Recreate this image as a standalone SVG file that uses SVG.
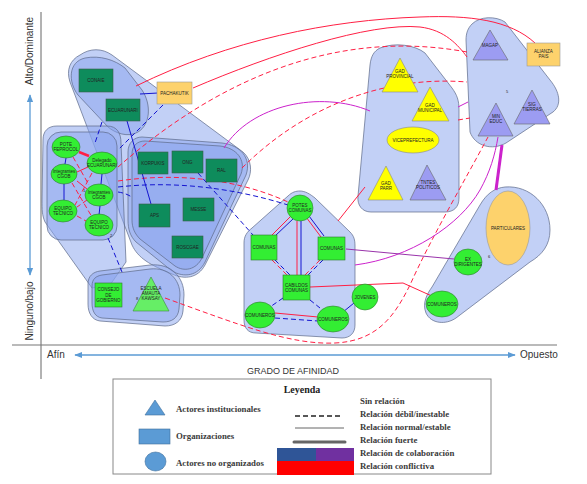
<svg xmlns="http://www.w3.org/2000/svg" width="587" height="484" viewBox="0 0 587 484">
<defs>
<style>
.cl{fill:#8aa5ee;fill-opacity:.52;stroke:#5b6888;stroke-width:.7}
.dg{fill:#0e8c5c;stroke:#3c5c48;stroke-width:.6}
.bg{fill:#33ee33;stroke:#2d7a2d;stroke-width:.6}
.lg{fill:#66ee66;stroke:#3d8a3d;stroke-width:.6}
.yl{fill:#ffff00;stroke:#888;stroke-width:.6}
.pu{fill:#9c9cf2;stroke:#666;stroke-width:.6}
.or{fill:#fdd26c;stroke:#999;stroke-width:.6}
.t{font-family:"Liberation Sans",Arial,sans-serif;font-size:4.5px;fill:#222;text-anchor:middle}
.n{font-family:"Liberation Sans",Arial,sans-serif;font-size:4px;fill:#222}
.r{fill:none;stroke:#ff1f44;stroke-width:1}
.rd{fill:none;stroke:#ff1f44;stroke-width:1;stroke-dasharray:5 3}
.b{fill:none;stroke:#1414d0;stroke-width:1}
.bd{fill:none;stroke:#1414d0;stroke-width:1;stroke-dasharray:5 3}
.m{fill:none;stroke:#cc22cc;stroke-width:1}
.p{fill:none;stroke:#9933aa;stroke-width:1}
.ax{font-family:"Liberation Sans",Arial,sans-serif;font-size:10px;fill:#333}
.lt{font-family:"Liberation Serif","Times New Roman",serif;font-size:8.8px;font-weight:bold;fill:#3a3a3a}
</style>
<marker id="ah" viewBox="0 0 10 10" refX="9" refY="5" markerWidth="6" markerHeight="6" orient="auto-start-reverse"><path d="M0,1 L10,5 L0,9 Z" fill="#5b9bd5"/></marker>
</defs>
<rect width="587" height="484" fill="#fff"/>

<g id="axes">
<line x1="41" y1="12" x2="41" y2="379" stroke="#666" stroke-width="1"/>
<line x1="12" y1="345" x2="557" y2="345" stroke="#777" stroke-width="1.2"/>
<line x1="30" y1="95" x2="30" y2="275" stroke="#5b9bd5" stroke-width="1.3" marker-start="url(#ah)" marker-end="url(#ah)"/>
<line x1="75" y1="355" x2="515" y2="355" stroke="#5b9bd5" stroke-width="1.3" marker-start="url(#ah)" marker-end="url(#ah)"/>
<text class="ax" transform="translate(33,51) rotate(-90)" text-anchor="middle">Alto/Dominante</text>
<text class="ax" transform="translate(33,311) rotate(-90)" text-anchor="middle">Ninguno/bajo</text>
<text class="ax" x="47" y="358">Afín</text>
<text class="ax" x="520" y="358">Opuesto</text>
<text class="ax" x="293" y="374" text-anchor="middle" style="font-size:9px">GRADO DE AFINIDAD</text>
</g>

<g id="clusters">
<path class="cl" d="M80,55 C90,48 102,48 112,55 L243,152 C252,160 252,172 248,180 L205,265 C198,278 185,280 172,274 C150,265 138,258 132,245 L70,82 C66,70 70,60 80,55 Z"/>
<path class="cl" d="M85,58 C100,55 115,60 125,68 L142,90 C152,105 150,125 138,132 C128,138 115,133 108,127 L78,95 C68,82 68,62 85,58 Z"/>
<path class="cl" d="M57,126 L107,126 C117,126 121,133 121,143 L126,262 L110,285 L92,288 L45,222 C42,215 42,210 42,200 L43,140 C43,131 48,126 57,126 Z"/>
<rect class="cl" x="47" y="132" width="70" height="108" rx="14"/>
<path class="cl" d="M142,137 L222,143 C240,145 252,158 246,175 L205,262 C198,276 184,278 172,271 L136,242 C130,236 128,229 128,220 L128,152 C128,143 134,137 142,137 Z"/>
<path class="cl" d="M145,141 L220,146 C237,148 246,160 241,174 L202,258 C196,270 184,272 175,266 L140,239 C135,234 132,228 132,220 L132,154 C132,146 137,141 145,141 Z"/>
<path class="cl" d="M100,271 L150,265 C171,263 184,277 184,295 L183,311 C182,321 175,326 165,326 L100,321 C92,320 88,313 88,304 L88,284 C88,276 93,272 100,271 Z"/>
<path class="cl" d="M102,275 L150,269 C168,267 180,279 180,295 L179,309 C178,318 172,322 163,322 L102,318 C95,317 92,311 92,303 L92,286 C92,279 96,276 102,275 Z"/>
<path class="cl" d="M300,191 C305,191 310,194 315,198 L350,232 C354,236 355,240 355,246 L355,325 C355,333 350,338 342,338 L256,333 C248,333 244,328 244,320 L244,243 C244,236 247,232 252,228 L288,196 C292,192 296,191 300,191 Z"/>
<path class="cl" d="M380,48 C395,42 415,45 425,53 L452,88 C457,95 459,100 459,110 L459,198 C459,207 454,212 445,212 L371,212 C362,212 357,205 358,196 L370,65 C371,56 374,51 380,48 Z"/>
<path class="cl" d="M472,24 C480,16 496,16 505,22 L550,80 C560,92 562,105 553,112 L506,143 C492,151 475,146 470,132 L466,40 C466,33 468,28 472,24 Z"/>
<path class="cl" d="M505,187 C530,185 550,205 550,230 C550,245 542,255 530,262 L456,318 C446,325 431,324 426,313 C422,303 427,294 432,287 L480,205 C487,193 495,188 505,187 Z"/>
</g>

<g id="connectors">
<path class="r" d="M136,86 C230,40 330,20 420,17 C470,15 510,20 535,43"/>
<path class="r" d="M193,88 C270,55 370,22 420,27 C445,30 458,45 467,57"/>
<path class="r" d="M338,221 L365,187"/>
<path class="r" d="M310,287 L403,283 L434,297"/>
<path class="r" d="M275,313 L318,317"/>
<path class="bd" d="M275,318 L318,321"/>
<path class="r" d="M79,152 L89,156" style="stroke-width:2.5"/>
<path class="r" d="M77,172 L88,167 M77,181 L87,189"/>
<path class="r" d="M291,216 L272,235 M297,221 L297,275 M306,217 L321,237"/>
<path class="b" d="M294,218 L275,236 M301,221 L301,275 M309,216 L324,236"/>
<path class="rd" d="M272,260 L287,275 M320,260 L305,275"/>
<path class="bd" d="M275,260 L290,275 M323,260 L308,275"/>
<path class="rd" d="M118,167 C200,95 320,25 467,52"/>
<path class="rd" d="M242,168 C300,110 380,75 467,82"/>
<path class="rd" d="M458,120 L470,118"/>
<path class="rd" d="M118,181 C180,172 240,180 288,202"/>
<path class="rd" d="M165,298 C240,325 290,345 335,343 C378,341 395,315 410,285 C430,240 465,180 488,137"/>
<path class="rd" d="M73,157 L89,185 M92,173 L75,205 M72,183 L92,217 M87,200 L77,207 M77,216 L86,221"/>
<path class="b" d="M127,121 L151,204 M140,94 L158,93 M66,158 L65,164 M64,184 L64,200 M102,174 L101,184 M100,206 L99,215 M343,312 L354,303"/>
<path class="bd" d="M102,122 L95,143 M163,105 L118,150 M198,173 L253,235 M108,238 L122,272"/>
<path class="bd" d="M118,187 C180,180 240,190 288,205"/>
<path class="bd" d="M118,192 C125,193 128,195 132,197"/>
<path class="bd" d="M283,298 L270,307 M310,300 L320,308"/>
<path class="m" d="M224,148 C250,105 320,90 370,111"/>
<path class="m" d="M458,107 L468,102"/>
<path class="m" d="M355,265 C410,258 460,225 480,190 C490,172 495,155 498,137"/>
<path class="m" d="M502,145 L496,190" style="stroke-width:3"/>
<path class="p" d="M346,249 L454,259"/>
</g>

<g id="conaie"><rect class="dg" x="79" y="69" width="34" height="23"/><text class="t" x="96" y="82">CONAIE</text></g>
<g id="ecuarunari"><rect class="dg" x="106" y="99" width="34" height="22"/><text class="t" x="123" y="112">ECUARUNARI</text></g>
<g id="pachakutik"><rect class="or" x="157" y="82" width="35" height="22"/><text class="t" x="174.5" y="95">PACHAKUTIK</text></g>
<g id="korpukis"><rect class="dg" x="138" y="152" width="30" height="22"/><text class="t" x="153" y="165">KORPUKIS</text></g>
<g id="ong"><rect class="dg" x="172" y="151" width="31" height="22"/><text class="t" x="187.5" y="164">ONG</text></g>
<g id="ral"><rect class="dg" x="206" y="159" width="31" height="23"/><text class="t" x="221.5" y="172">RAL</text></g>
<g id="aps"><rect class="dg" x="139" y="204" width="31" height="23"/><text class="t" x="154.5" y="217">APS</text></g>
<g id="messe"><rect class="dg" x="183" y="198" width="31" height="23"/><text class="t" x="198.5" y="211">MESSE</text></g>
<g id="roscgae"><rect class="dg" x="172" y="236" width="31" height="22"/><text class="t" x="187.5" y="249">ROSCGAE</text></g>

<g id="pote-feprocol"><ellipse class="bg" cx="66" cy="147" rx="14" ry="11"/><text class="t" x="66" y="146">POTE</text><text class="t" x="66" y="151">FEPROCOL</text></g>
<g id="delegado"><ellipse class="bg" cx="102" cy="163" rx="15" ry="11"/><text class="t" x="102" y="162">Delegado</text><text class="t" x="102" y="167">ECUARUNARI</text></g>
<g id="cgob-1"><ellipse class="bg" cx="64" cy="174" rx="13" ry="10"/><text class="t" x="64" y="173">Integrantes</text><text class="t" x="64" y="178">CGOB</text></g>
<g id="cgob-2"><ellipse class="bg" cx="99" cy="195" rx="14" ry="11"/><text class="t" x="99" y="194">Integrantes</text><text class="t" x="99" y="199">CGOB</text></g>
<g id="equipo-1"><ellipse class="bg" cx="63" cy="211" rx="14" ry="11"/><text class="t" x="63" y="210">EQUIPO</text><text class="t" x="63" y="215">TECNICO</text></g>
<g id="equipo-2"><ellipse class="bg" cx="99" cy="225" rx="14" ry="11"/><text class="t" x="99" y="224">EQUIPO</text><text class="t" x="99" y="229">TECNICO</text></g>

<g id="consejo"><rect class="bg" x="95" y="283" width="27" height="24"/><text class="t" x="108.5" y="291">CONSEJO</text><text class="t" x="108.5" y="296.5">DE</text><text class="t" x="108.5" y="302">GOBIERNO</text></g>
<g id="escuela"><polygon class="lg" points="151,277 169,311 133,311"/><text class="t" x="151" y="290">ESCUELA</text><text class="t" x="151" y="295">AMAUTA</text><text class="t" x="151" y="300">KAWSAY</text></g>

<g id="potes-comunas"><ellipse class="bg" cx="300" cy="208" rx="13" ry="13"/><text class="t" x="300" y="207">POTES</text><text class="t" x="300" y="212">COMUNAS</text></g>
<g id="comunas-1"><rect class="bg" x="251" y="235" width="26" height="25"/><text class="t" x="264" y="249">COMUNAS</text></g>
<g id="comunas-2"><rect class="bg" x="318" y="237" width="27" height="23"/><text class="t" x="331.5" y="250">COMUNAS</text></g>
<g id="cabildos"><rect class="bg" x="283" y="275" width="27" height="25"/><text class="t" x="296.5" y="287">CABILDOS</text><text class="t" x="296.5" y="292">COMUNAS</text></g>
<g id="comuneros-1"><ellipse class="bg" cx="260" cy="315" rx="15" ry="13"/><text class="t" x="260" y="317">COMUNEROS</text></g>
<g id="comuneros-2"><ellipse class="bg" cx="333" cy="319" rx="16" ry="13"/><text class="t" x="333" y="321">COMUNEROS</text></g>
<g id="jovenes"><ellipse class="bg" cx="365" cy="297" rx="13" ry="13"/><text class="t" x="365" y="299">JOVENES</text></g>

<g id="gad-provincial"><polygon class="yl" points="400,58 418,92 382,92"/><text class="t" x="400" y="73">GAD</text><text class="t" x="400" y="78">PROVINCIAL</text></g>
<g id="gad-municipal"><polygon class="yl" points="430,87 449,121 412,121"/><text class="t" x="430" y="107">GAD</text><text class="t" x="430" y="112">MUNICIPAL</text></g>
<g id="viceprefectura"><ellipse class="yl" cx="413" cy="140" rx="26" ry="13"/><text class="t" x="413" y="142">VICEPREFECTURA</text></g>
<g id="gad-parr"><polygon class="yl" points="386,166 403,200 368,200"/><text class="t" x="386" y="185">GAD</text><text class="t" x="386" y="190">PARR</text></g>
<g id="tntes"><polygon class="pu" points="427,165 446,200 410,200"/><text class="t" x="428" y="184">TNTES</text><text class="t" x="428" y="189">POLITICOS</text></g>

<g id="magap"><polygon class="pu" points="490,30 508,60 473,60"/><text class="t" x="490" y="47">MAGAP</text></g>
<g id="min-educ"><polygon class="pu" points="496,103 513,136 478,136"/><text class="t" x="496" y="118">MIN</text><text class="t" x="496" y="123">EDUC</text></g>
<g id="sig-tierras"><polygon class="pu" points="532,90 550,124 514,124"/><text class="t" x="532" y="106">SIG</text><text class="t" x="532" y="111">TIERRAS</text></g>
<g id="alianza-pais"><rect class="or" x="527" y="43" width="33" height="23"/><text class="t" x="543.5" y="53">ALIANZA</text><text class="t" x="543.5" y="58">PAIS</text></g>

<g id="particulares"><ellipse class="or" cx="508" cy="228" rx="22" ry="37"/><text class="t" x="508" y="230">PARTICULARES</text></g>
<g id="ex-dirigentes"><ellipse class="bg" cx="468" cy="262" rx="14" ry="13"/><text class="t" x="468" y="261">EX</text><text class="t" x="468" y="266">DIRIGENTES</text></g>
<g id="comuneros-3"><ellipse class="bg" cx="442" cy="304" rx="16" ry="13"/><text class="t" x="442" y="306">COMUNEROS</text></g>

<g id="marks">
<text class="n" x="83" y="192">1</text>
<text class="n" x="110" y="237">2</text>
<text class="n" x="136" y="300">8</text>
<text class="n" x="506" y="93">5</text>
<text class="n" x="488" y="258">6</text>
</g>

<g id="legend">
<rect x="113" y="379" width="378" height="95" fill="#fff" stroke="#888" stroke-width="1"/>
<text x="302" y="393" text-anchor="middle" style="font-family:'Liberation Serif',serif;font-size:10px;font-weight:bold;fill:#222">Leyenda</text>
<polygon points="155,400 165,415 145,415" fill="#5b9bd5" stroke="#41719c" stroke-width=".6"/>
<rect x="139" y="429" width="31" height="15" fill="#5b9bd5" stroke="#41719c" stroke-width=".6"/>
<ellipse cx="155.5" cy="461.5" rx="10.5" ry="9.5" fill="#5b9bd5" stroke="#41719c" stroke-width=".6"/>
<text class="lt" x="176" y="412">Actores institucionales</text>
<text class="lt" x="176" y="439">Organizaciones</text>
<text class="lt" x="176" y="466">Actores no organizados</text>
<line x1="295" y1="416" x2="343" y2="416" stroke="#222" stroke-width="1.5" stroke-dasharray="5 3"/>
<line x1="295" y1="428" x2="344" y2="428" stroke="#666" stroke-width="1"/>
<line x1="294" y1="442" x2="345" y2="442" stroke="#666" stroke-width="3" stroke-linecap="round"/>
<rect x="277" y="448" width="39" height="13" fill="#2f5597"/>
<rect x="316" y="448" width="38" height="13" fill="#7030a0"/>
<rect x="277" y="461" width="77" height="14" fill="#ff0000"/>
<text class="lt" x="360" y="404">Sin relación</text>
<text class="lt" x="360" y="417">Relación débil/inestable</text>
<text class="lt" x="360" y="430">Relación normal/estable</text>
<text class="lt" x="360" y="443">Relación fuerte</text>
<text class="lt" x="360" y="456">Relación de colaboración</text>
<text class="lt" x="360" y="469">Relación conflictiva</text>
</g>
</svg>
